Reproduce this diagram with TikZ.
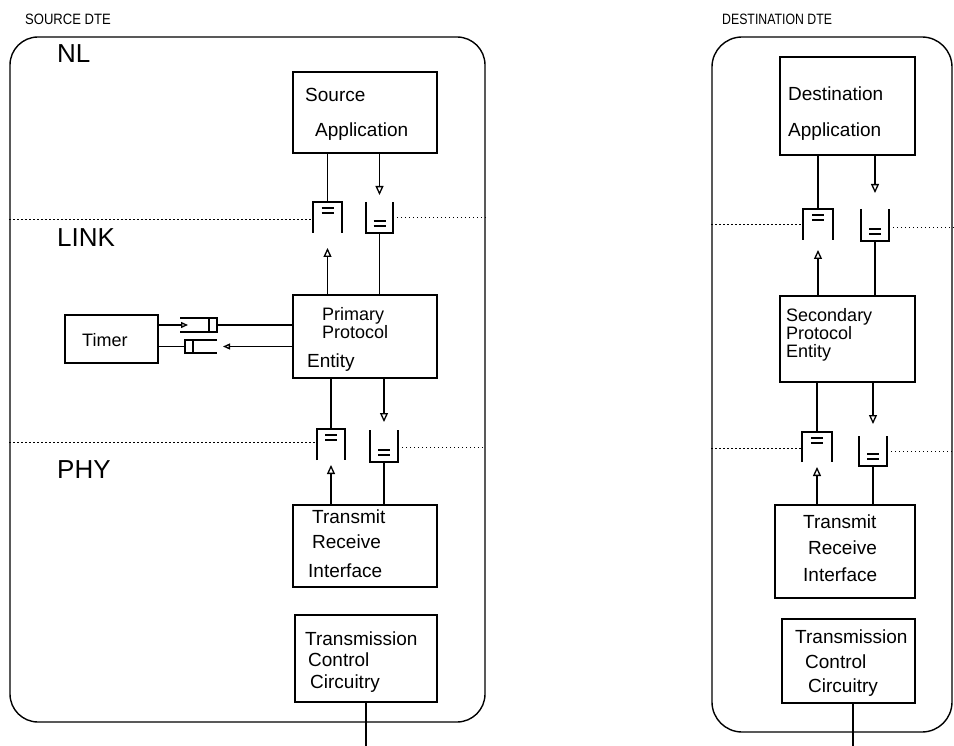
\documentclass[tikz,border=0pt]{standalone}
\usepackage{fontspec}
\setmainfont{Liberation Sans}
\usetikzlibrary{arrows.meta}
\newcommand\myqup[4]{%
  \node[qn, minimum width=#3, minimum height=#4] (#1) at (#2) {};
  \draw[ql] (#1.south west) -- (#1.north west) -- (#1.north east) -- (#1.south east);
  \draw[bar] ([xshift=-6pt,yshift=-6pt]#1.north) -- ([xshift=6pt,yshift=-6pt]#1.north);
  \draw[bar] ([xshift=-6pt,yshift=-11pt]#1.north) -- ([xshift=6pt,yshift=-11pt]#1.north);
}
\newcommand\myqdown[4]{%
  \node[qn, minimum width=#3, minimum height=#4] (#1) at (#2) {};
  \draw[ql] (#1.north west) -- (#1.south west) -- (#1.south east) -- (#1.north east);
  \draw[bar] ([xshift=-6pt,yshift=7pt]#1.south) -- ([xshift=6pt,yshift=7pt]#1.south);
  \draw[bar] ([xshift=-6pt,yshift=12pt]#1.south) -- ([xshift=6pt,yshift=12pt]#1.south);
}
\begin{document}
\begin{tikzpicture}[x=1pt,y=-1pt,
  frame/.style={draw, line width=1.4pt, rounded corners=28pt, inner sep=0},
  blk/.style={draw, line width=1.3pt, inner sep=0},
  qn/.style={inner sep=0, outer sep=0},
  ql/.style={line width=1.4pt},
  bar/.style={line width=1.2pt},
  cl/.style={line width=1.4pt},
  arr/.style={line width=1.3pt, -{Triangle[open,length=9pt,width=8pt]}},
  arrs/.style={line width=1.3pt, -{Triangle[open,length=7pt,width=6pt]}},
  dotl/.style={line width=1pt, dash pattern=on 1.2pt off 2.8pt},
  txt/.style={anchor=base west, inner sep=0, font=\fontsize{19}{19}\selectfont},
  txs/.style={anchor=base west, inner sep=0, font=\fontsize{18}{18}\selectfont},
  ttl/.style={anchor=base west, inner sep=0, font=\fontsize{15}{15}\selectfont},
  lyr/.style={anchor=base west, inner sep=0, font=\fontsize{26}{26}\selectfont}
]
\useasboundingbox (0,0) rectangle (954,746);

% containers
\node[frame, minimum width=475pt, minimum height=685pt] (src) at (247.5,379.5) {};
\node[frame, minimum width=240pt, minimum height=695pt, rounded corners=30pt] (dst) at (832,384.5) {};
\node[ttl] (srct) at (25,25) {\scalebox{0.87}[1]{SOURCE DTE}};
\node[ttl] (dstt) at (722,25) {\scalebox{0.82}[1]{DESTINATION DTE}};

% layer labels
\node[lyr] (nl) at (57,63) {NL};
\node[lyr] (link) at (57,247) {LINK};
\node[lyr] (phy) at (57,478) {PHY};

% source blocks
\node[blk, minimum width=144pt, minimum height=81pt] (app1) at (365,112.5) {};
\node[blk, minimum width=144pt, minimum height=83pt] (ppe) at (365,336.5) {};
\node[blk, minimum width=144pt, minimum height=82pt] (tri1) at (365,546) {};
\node[blk, minimum width=142pt, minimum height=87pt] (tcc1) at (366,658.5) {};
\node[blk, minimum width=93pt, minimum height=48pt] (timer) at (111.5,339) {};

\node[txt] (t1a) at (305,102) {Source};
\node[txt] (t1b) at (315,137) {Application};
\node[txs] (t2a) at (322,320) {Primary};
\node[txs] (t2b) at (322,338) {Protocol};
\node[txt] (t2c) at (307,367) {Entity};
\node[txt] (t3a) at (312,523) {Transmit};
\node[txt] (t3b) at (312,548) {Receive};
\node[txt] (t3c) at (308,577) {Interface};
\node[txt] (t4a) at (305,645) {Transmission};
\node[txt] (t4b) at (308,666) {Control};
\node[txt] (t4c) at (310,688) {Circuitry};
\node[anchor=base west, inner sep=0, font=\fontsize{18}{18}\selectfont] (tt) at (82,346) {Timer};

% destination blocks
\node[blk, minimum width=135pt, minimum height=98pt] (app2) at (847.5,106) {};
\node[blk, minimum width=135pt, minimum height=86pt] (spe) at (847.5,339) {};
\node[blk, minimum width=140pt, minimum height=93pt] (tri2) at (845,551.5) {};
\node[blk, minimum width=133pt, minimum height=84pt] (tcc2) at (848.5,661) {};

\node[txt] (d1a) at (788,101) {Destination};
\node[txt] (d1b) at (788,137) {Application};
\node[txs] (d2a) at (786,322) {Secondary};
\node[txs] (d2b) at (786,340) {Protocol};
\node[txs] (d2c) at (786,357) {Entity};
\node[txt] (d3a) at (803,528) {Transmit};
\node[txt] (d3b) at (808,554) {Receive};
\node[txt] (d3c) at (803,581) {Interface};
\node[txt] (d4a) at (795,643) {Transmission};
\node[txt] (d4b) at (805,668) {Control};
\node[txt] (d4c) at (808,692) {Circuitry};

% queues
\myqup{q1u}{327.5,217.5}{29pt}{31pt}
\myqdown{q1d}{379.5,217.5}{27pt}{31pt}
\myqup{q2u}{331,444.5}{28pt}{31pt}
\myqdown{q2d}{384,446}{28pt}{32pt}
\myqup{q3u}{818,224.5}{30pt}{31pt}
\myqdown{q3d}{875,225}{28pt}{32pt}
\myqup{q4u}{817,447}{30pt}{30pt}
\myqdown{q4d}{873,451}{28pt}{30pt}

% timer queues
\node[qn, minimum width=37pt, minimum height=14pt] (qt1) at (198.5,325) {};
\draw[ql] (qt1.north west) -- (qt1.north east) -- (qt1.south east) -- (qt1.south west);
\draw[bar] ([xshift=-8pt]qt1.north east) -- ([xshift=-8pt]qt1.south east);
\node[qn, minimum width=32pt, minimum height=13pt] (qt2) at (201,346.5) {};
\draw[ql] (qt2.north east) -- (qt2.north west) -- (qt2.south west) -- (qt2.south east);
\draw[bar] ([xshift=8pt]qt2.north west) -- ([xshift=8pt]qt2.south west);

% dotted layer lines
\draw[dotl] (src.west |- 0,220) -- (q1u.west |- 0,220);
\draw[dotl] (q1d.east |- 0,218) -- (src.east |- 0,218);
\draw[dotl] (src.west |- 0,442) -- (q2u.west |- 0,442);
\draw[dotl] (q2d.east |- 0,447) -- (src.east |- 0,447);
\draw[dotl] (dst.west |- 0,225) -- (q3u.west |- 0,225);
\draw[dotl] (q3d.east |- 0,228) -- (954,228);
\draw[dotl] (dst.west |- 0,448) -- (q4u.west |- 0,448);
\draw[dotl] (q4d.east |- 0,451) -- (954,451);

% source connectors
\draw[cl] (app1.south -| q1u.north) -- (q1u.north);
\draw[arr] (ppe.north -| q1u.south) -- ([yshift=-15pt]q1u.south);
\draw[arr] (app1.south -| q1d.north) -- ([yshift=7pt]q1d.north);
\draw[cl] (q1d.south) -- (ppe.north -| q1d.south);
\draw[cl] (ppe.south -| q2u.north) -- (q2u.north);
\draw[arr] (tri1.north -| q2u.south) -- ([yshift=-5pt]q2u.south);
\draw[arr] (ppe.south -| q2d.north) -- ([yshift=8pt]q2d.north);
\draw[cl] (q2d.south) -- (tri1.north -| q2d.south);

% timer connectors
\draw[arrs] (timer.east |- qt1.west) -- ([xshift=8pt]qt1.west);
\draw[cl] (qt1.east) -- (qt1.east -| ppe.west);
\draw[cl] (qt2.west -| timer.east) -- (qt2.west);
\draw[arrs] (qt2.east -| ppe.west) -- ([xshift=6pt]qt2.east);

% destination connectors
\draw[cl] (app2.south -| q3u.north) -- (q3u.north);
\draw[arr] (spe.north -| q3u.south) -- ([yshift=-10pt]q3u.south);
\draw[arr] (app2.south -| q3d.north) -- ([yshift=16pt]q3d.north);
\draw[cl] (q3d.south) -- (spe.north -| q3d.south);
\draw[cl] (spe.south -| q4u.north) -- (q4u.north);
\draw[arr] (tri2.north -| q4u.south) -- ([yshift=-5pt]q4u.south);
\draw[arr] (spe.south -| q4d.north) -- ([yshift=12pt]q4d.north);
\draw[cl] (q4d.south) -- (tri2.north -| q4d.south);

% lines out
\coordinate (end1) at (366,746);
\coordinate (end2) at (853,746);
\draw[cl] (tcc1.south) -- (end1);
\draw[cl] (end2 |- tcc2.south) -- (end2);
\end{tikzpicture}
\end{document}
